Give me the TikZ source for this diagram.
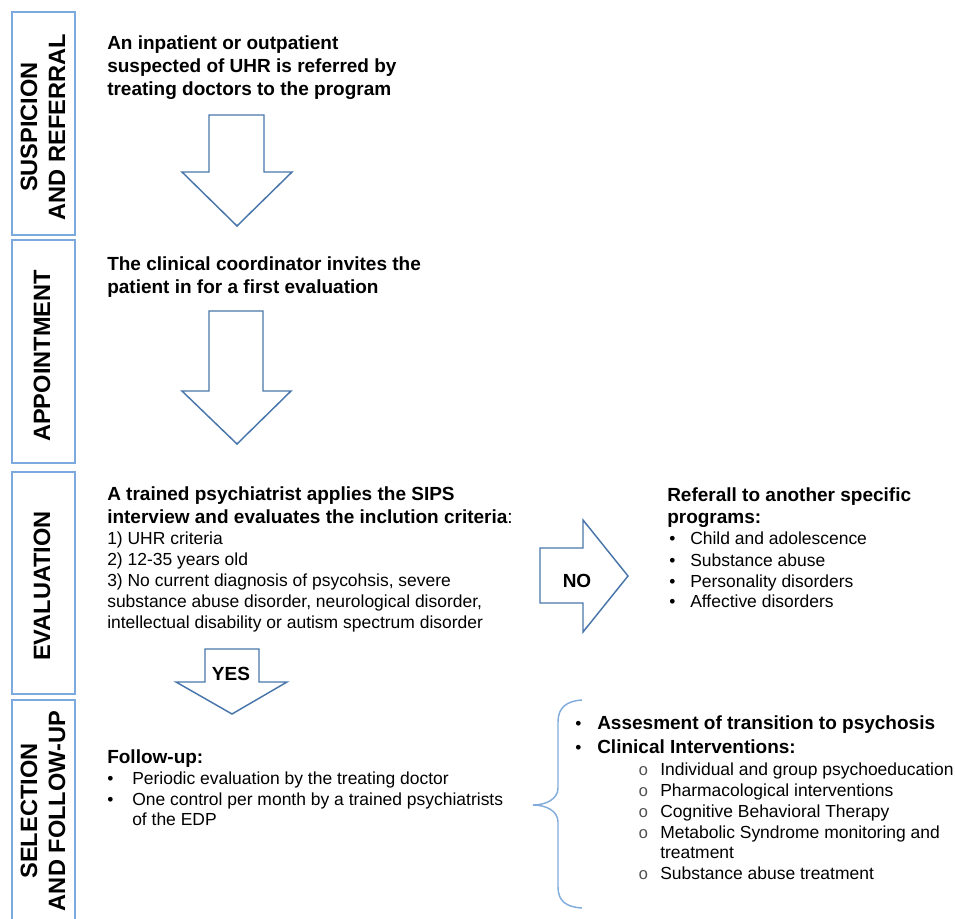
\documentclass[tikz,border=0pt]{standalone}
\usepackage{fontspec}
\setmainfont{Liberation Sans}
\newfontfamily\bulletmono{Liberation Mono}
\definecolor{boxblue}{RGB}{125,170,222}
\definecolor{arrowblue}{RGB}{72,118,170}
\definecolor{braceblue}{RGB}{130,172,220}
\definecolor{subgray}{RGB}{80,80,80}
\begin{document}
\begin{tikzpicture}[x=0.75pt,y=-0.75pt,
  hb/.style={font=\fontsize{14.25}{17}\selectfont\bfseries, anchor=base west, inner sep=0pt},
  tx/.style={font=\fontsize{13.1}{15.7}\selectfont, anchor=base west, inner sep=0pt},
  sub/.style={font=\fontsize{12.5}{15.7}\selectfont\bulletmono, text=subgray, anchor=base west, inner sep=0pt},
  lab/.style={font=\fontsize{17.7}{21}\selectfont\bfseries, rotate=90, align=center, inner sep=0pt},
  stagebox/.style={draw=boxblue, line width=1.5pt},
  barrow/.style={draw=arrowblue, line width=1.1pt, line join=miter},
  bracepath/.style={draw=braceblue, line width=1.1pt}]
\useasboundingbox (0,0) rectangle (955,919);

% stage boxes
\draw[stagebox] (12,12) rectangle (75,235);
\draw[stagebox] (12,240) rectangle (75,463);
\draw[stagebox] (12,472) rectangle (75,694);
\draw[stagebox] (12,925) -- (12,700) -- (75,700) -- (75,925);
\node[lab] (l1) at (43,127) {SUSPICION\\AND REFERRAL};
\node[lab] (l2) at (42,356) {APPOINTMENT};
\node[lab] (l3) at (42,586) {EVALUATION};
\node[lab] (l4) at (43,811) {SELECTION\\AND FOLLOW-UP};

% block arrows
\draw[barrow] (209,115) -- (264,115) -- (264,172) -- (292,172) -- (237,226) -- (182,172) -- (209,172) -- cycle;
\draw[barrow] (209,311) -- (263,311) -- (263,391) -- (291,391) -- (237,444) -- (182,391) -- (209,391) -- cycle;
\draw[barrow] (205,649) -- (259,649) -- (259,682) -- (287,682) -- (232,714) -- (176,682) -- (205,682) -- cycle;
\draw[barrow] (540,548) -- (583,548) -- (583,520) -- (628,576) -- (583,632) -- (583,603) -- (540,603) -- cycle;
\node[hb, anchor=base] (yes) at (231,680) {YES};
\node[hb, anchor=base] (no) at (577,587) {NO};

% suspicion
\node[hb] (s1a) at (107,50) {An inpatient or outpatient};
\node[hb] (s1b) at (107,73) {suspected of UHR is referred by};
\node[hb] (s1c) at (107,96) {treating doctors to the program};

% appointment
\node[hb] (s2a) at (107,271) {The clinical coordinator invites the};
\node[hb] (s2b) at (107,294) {patient in for a first evaluation};

% evaluation
\node[hb] (s3a) at (107,500) {A trained psychiatrist applies the SIPS};
\node[hb] (s3b) at (107,523) {interview and evaluates the inclution criteria{\mdseries :}};
\node[tx] (s3c) at (107,544) {1) UHR criteria};
\node[tx] (s3d) at (107,565) {2) 12-35 years old};
\node[tx] (s3e) at (107,586) {3) No current diagnosis of psycohsis, severe};
\node[tx] (s3f) at (107,607) {substance abuse disorder, neurological disorder,};
\node[tx] (s3g) at (107,628) {intellectual disability or autism spectrum disorder};

% referral
\node[hb] (r0) at (667,501) {Referall to another specific};
\node[hb] (r0b) at (667,523) {programs:};
\node[tx] (rb1) at (669,544) {•}; \node[tx] (r1) at (690,544) {Child and adolescence};
\node[tx] (rb2) at (669,566) {•}; \node[tx] (r2) at (690,566) {Substance abuse};
\node[tx] (rb3) at (669,587) {•}; \node[tx] (r3) at (690,587) {Personality disorders};
\node[tx] (rb4) at (669,607) {•}; \node[tx] (r4) at (690,607) {Affective disorders};

% follow-up
\node[hb] (f0) at (107,763) {Follow-up:};
\node[tx] (fb1) at (107,784) {•}; \node[tx] (f1) at (132,784) {Periodic evaluation by the treating doctor};
\node[tx] (fb2) at (107,805) {•}; \node[tx] (f2) at (132,805) {One control per month by a trained psychiatrists};
\node[tx] (f3) at (132,825) {of the EDP};

% brace
\draw[bracepath] (582,700) .. controls (566,701) and (558,708) .. (558,722) -- (558,788)
  .. controls (558,799) and (546,805) .. (533,805)
  .. controls (546,805) and (558,811) .. (558,822) -- (558,887)
  .. controls (558,901) and (566,907) .. (582,908);

% interventions
\node[tx] (ib1) at (575,729) {•}; \node[hb] (i1) at (597,729) {Assesment of transition to psychosis};
\node[tx] (ib2) at (575,753) {•}; \node[hb] (i2) at (597,753) {Clinical Interventions:};
\node[sub] (ob1) at (638,775) {o}; \node[tx] (o1) at (660,775) {Individual and group psychoeducation};
\node[sub] (ob2) at (638,796) {o}; \node[tx] (o2) at (660,796) {Pharmacological interventions};
\node[sub] (ob3) at (638,817) {o}; \node[tx] (o3) at (660,817) {Cognitive Behavioral Therapy};
\node[sub] (ob4) at (638,838) {o}; \node[tx] (o4) at (660,838) {Metabolic Syndrome monitoring and};
\node[tx] (o4b) at (660,858) {treatment};
\node[sub] (ob5) at (638,879) {o}; \node[tx] (o5) at (660,879) {Substance abuse treatment};
\end{tikzpicture}
\end{document}
